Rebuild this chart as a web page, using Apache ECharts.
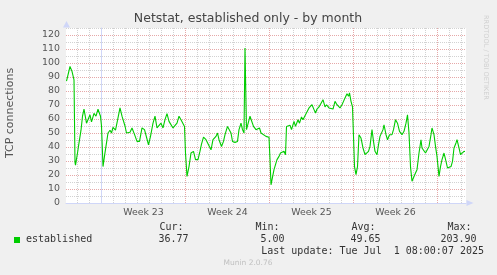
<!DOCTYPE html>
<html><head><meta charset="utf-8">
<script src="https://cdn.jsdelivr.net/npm/echarts@6/dist/echarts.min.js"></script>
<style>html,body{margin:0;padding:0;background:#f0f0f0;overflow:hidden}#c{width:497px;height:275px}</style>
</head><body><div id="c"></div>
<script>
// time in hours relative to the start of Week 23 (Monday 00:00)
const hours = [-70,-63,-59,-55,-53,-52,-48,-45,-41,-38,-35,-30,-27,-23,-20,-15,-11,-7,-2,0,3,7,10,13,17,20,23,28,32,37,41,47,50,57,61,63,66,71,76,81,86,89,94,98,103,107,111,115,119,123,127,131,135,139,143,147,151,155,159,163,166,168,171,175,179,184,188,193,197,200,204,209,213,219,223,229,232,235,240,244,247,252,255,259,262,267,272,275,279,282,285,287,290,293,297,300,304,309,312,316,319,323,329,333,335,337,339,343,345,348,351,355,358,361,365,368,370,373,377,380,385,388,393,396,400,403,408,411,415,418,421,425,428,431,435,438,443,447,450,455,459,463,467,471,474,477,481,484,487,491,494,496,499,502,504,506,509,512,515,519,523,527,531,534,537,541,544,547,551,554,557,563,565,569,572,576,581,584,588,592,596,601,605,609,612,615,618,621,625,628,631,635,639,641,645,648,652,655,659,661,665,668,671,675,678,681,685,689,692,695,699,702,705,709,711,715,718,721,725,727];
const established = [87,97.5,94,88,29,27,35.7,43,52,62,67,57,58,63,58,64,62,67,62,55,26,36,43,50,52,50,54,52,59,68,62,55,50,50.5,53.6,54,49,44,44,53.6,52.4,51,41.6,47.6,57,62,53.6,54.7,57,53.6,59.5,63.8,58.3,59.5,53.6,53.6,57,62,59.5,60.7,54.7,35.7,19,26,35.7,36.9,31,31,37,42,47,45.2,45.5,38,45.2,47.6,50,45.2,40.4,44,48.8,54.7,55.5,50,44,43.3,44,52.4,57,52.4,50,110.7,52.4,53.6,62,60.7,54.7,52.4,53.6,53.6,50,48.8,47.6,47.6,47,31,13,14.3,23.8,27.4,31,33.3,35.7,34.5,36.9,34.5,54.7,53.6,55.5,52.4,58.3,54.7,59.5,57,61.4,59.5,63,63,67.9,66.7,70.2,66.7,64.3,67.1,68.6,67.9,73.8,68.6,70.2,67.9,69,67.1,72.6,70.2,71.4,67.9,70.2,72.6,75,78,76.2,78.6,72.6,68.6,47.6,26,20.2,26,48.8,46.4,39.3,34.5,35.7,36.9,40.4,52.4,44,36.9,34.5,41.6,47.6,52.4,55.9,48.8,45.2,48.8,48.8,52.4,59.5,57,51.2,48.8,51.2,57,63,50,26,15.5,15.5,21.4,23.8,35.7,45.2,39.3,40.4,35.7,34.5,40.4,48.8,53.6,48.8,40.4,33.3,19,26,31,35.7,29.7,25,26,26,29.7,39.3,42.9,45.2,39.3,34.5,34.5,36.9,36.8];
const weekLabels = ['Week 23','Week 24','Week 25','Week 26'];
const weekCenters = [84,252,420,588];
const statNames = ['Cur:','Min:','Avg:','Max:'];
const statValues = ['36.77','5.00','49.65','203.90'];
const seriesName = 'established';
const titleText = 'Netstat, established only - by month';
const yAxisName = 'TCP connections';
const lastUpdate = 'Last update: Tue Jul  1 08:00:07 2025';
const footer = 'Munin 2.0.76';
const watermark = 'RRDTOOL / TOBI OETIKER';

const GRAY = '#d2d2d2', RED = '#e6a8a8', AXIS = '#cfd6f8', FONT = '#555';
const chart = echarts.init(document.getElementById('c'), null, {renderer:'canvas'});
const mono = '"DejaVu Sans Mono", monospace';
const sans = '"DejaVu Sans", sans-serif';
const graphics = [
  {type:'text', x:248, y:18.5, style:{text:titleText, font:'12.5px '+sans, fill:'#444', textAlign:'center', textVerticalAlign:'middle'}},
  {type:'text', x:10.5, y:113, rotation:Math.PI/2, style:{text:yAxisName, font:'11px '+sans, fill:FONT, textAlign:'center', textVerticalAlign:'middle'}},
  {type:'text', x:486, y:15, rotation:-Math.PI/2, style:{text:watermark, font:'6.6px '+sans, fill:'#d0d0d0', textAlign:'left', textVerticalAlign:'middle'}},
  {type:'polygon', shape:{points:[[66.5,21],[63,27.5],[70,27.5]]}, style:{fill:AXIS}},
  {type:'rect', shape:{x:14, y:237, width:6, height:6}, style:{fill:'#00cc00'}},
  {type:'text', x:26, y:239.5, style:{text:seriesName, font:'10px '+mono, fill:'#333', textAlign:'left', textVerticalAlign:'middle'}},
  {type:'text', x:484, y:251.5, style:{text:lastUpdate, font:'10px '+mono, fill:'#333', textAlign:'right', textVerticalAlign:'middle'}},
  {type:'text', x:248, y:263.5, style:{text:footer, font:'7.5px '+sans, fill:'#c0c0c0', textAlign:'center', textVerticalAlign:'middle'}}
];
statNames.forEach((s,i)=>graphics.push({type:'text', x:183.5+96*i, y:227.5, style:{text:s, font:'10px '+mono, fill:'#333', textAlign:'right', textVerticalAlign:'middle'}}));
statValues.forEach((s,i)=>graphics.push({type:'text', x:188.5+96*i, y:239.5, style:{text:s, font:'10px '+mono, fill:'#333', textAlign:'right', textVerticalAlign:'middle'}}));

chart.setOption({
  animation:false,
  backgroundColor:'#f0f0f0',
  grid:{left:66, top:28, width:400, height:175, show:true, backgroundColor:'#ffffff', borderWidth:0},
  xAxis:[{
    type:'value', position:'bottom', min:-71, max:729, minInterval:24, maxInterval:24,
    axisLine:{show:true, onZero:false, lineStyle:{color:AXIS, width:1}, symbol:['none','triangle'], symbolSize:[6,7], symbolOffset:[0,4]},
    axisTick:{show:false}, axisLabel:{show:false},
    splitLine:{show:true, showMinLine:false, showMaxLine:false, lineStyle:{color:[GRAY,GRAY,RED,GRAY,GRAY,GRAY,GRAY], type:[1,1], width:1}}
  },{
    type:'value', position:'bottom', offset:0, min:-71, max:729, minInterval:84, maxInterval:84,
    axisLine:{show:false}, axisTick:{show:false}, splitLine:{show:false},
    axisLabel:{show:true, margin:5, fontSize:9.4, fontFamily:sans, color:FONT,
      formatter:v=>{const k=weekCenters.indexOf(v); return k>=0?weekLabels[k]:'';}}
  }],
  yAxis:{
    type:'value', min:0, max:125, interval:5,
    axisLine:{show:true, lineStyle:{color:AXIS, width:1}},
    axisTick:{show:false},
    axisLabel:{margin:6, fontSize:9.4, fontFamily:sans, color:FONT, formatter:v=>(v%10===0?String(v):'')},
    splitLine:{show:true, showMinLine:false, showMaxLine:true, lineStyle:{color:[GRAY,RED], type:[1,1], width:1}}
  },
  series:[{type:'line', name:seriesName, xAxisIndex:0, data:hours.map((h,i)=>[h,established[i]]), symbol:'none', lineStyle:{color:'#00cc00', width:1.1}, clip:true}],
  graphic:graphics
});
</script></body></html>
